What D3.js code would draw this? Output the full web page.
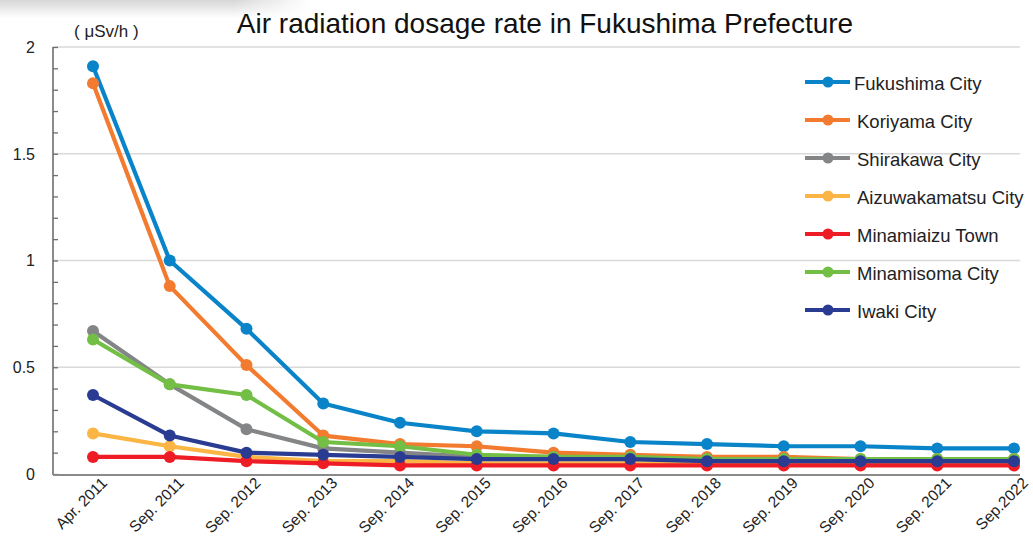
<!DOCTYPE html>
<html lang="en">
<head>
    <meta charset="utf-8">
    <title>Air radiation dosage rate in Fukushima Prefecture</title>
    <script type="text/javascript" src="https://cdn.jsdelivr.net/npm/d3@7/dist/d3.min.js"></script>
    <style>
    body { margin: 0; background: #ffffff; }
    svg { display: block; font-family: "Liberation Sans", Arial, sans-serif; }
    </style>
</head>
<body>
<script>
    var w = 1033;
    var h = 538;

    // data
    var periods = ["Apr. 2011", "Sep. 2011", "Sep. 2012", "Sep. 2013", "Sep. 2014", "Sep. 2015",
                   "Sep. 2016", "Sep. 2017", "Sep. 2018", "Sep. 2019", "Sep. 2020", "Sep. 2021", "Sep.2022"];
    var cities = ["Fukushima City", "Koriyama City", "Shirakawa City", "Aizuwakamatsu City",
                  "Minamiaizu Town", "Minamisoma City", "Iwaki City"];
    var fukushima     = [1.91, 1.00, 0.68, 0.33, 0.24, 0.20, 0.19, 0.15, 0.14, 0.13, 0.13, 0.12, 0.12];
    var koriyama      = [1.83, 0.88, 0.51, 0.18, 0.14, 0.13, 0.10, 0.09, 0.08, 0.08, 0.07, 0.07, 0.07];
    var shirakawa     = [0.67, 0.42, 0.21, 0.12, 0.10, 0.08, 0.08, 0.07, 0.07, 0.07, 0.06, 0.06, 0.06];
    var aizuwakamatsu = [0.19, 0.13, 0.08, 0.06, 0.06, 0.05, 0.05, 0.05, 0.05, 0.05, 0.05, 0.05, 0.05];
    var minamiaizu    = [0.08, 0.08, 0.06, 0.05, 0.04, 0.04, 0.04, 0.04, 0.04, 0.04, 0.04, 0.04, 0.04];
    var minamisoma    = [0.63, 0.42, 0.37, 0.15, 0.13, 0.09, 0.08, 0.08, 0.07, 0.07, 0.07, 0.07, 0.07];
    var iwaki         = [0.37, 0.18, 0.10, 0.09, 0.08, 0.07, 0.07, 0.07, 0.06, 0.06, 0.06, 0.06, 0.06];
    var yTicks = [0, 0.5, 1, 1.5, 2];
    var colors = ["#0a84c8", "#f37b2f", "#848587", "#fbb545", "#ee1c25", "#73be44", "#2a3b92"];

    var seriesValues = [fukushima, koriyama, shirakawa, aizuwakamatsu, minamiaizu, minamisoma, iwaki];
    var series = cities.map(function(c, i) {
        return { name: c, color: colors[i], values: seriesValues[i] };
    });

    var svg = d3.select("body")
                .append("svg")
                .attr("width", w)
                .attr("height", h);

    // faint shadow in the top left corner
    var defs = svg.append("defs");
    var shade = defs.append("linearGradient")
                    .attr("id", "shade")
                    .attr("x1", 0).attr("y1", 0).attr("x2", 0).attr("y2", 1);
    shade.append("stop").attr("offset", "0%").attr("stop-color", "#d6d6d6");
    shade.append("stop").attr("offset", "100%").attr("stop-color", "#ffffff");
    var fade = defs.append("linearGradient")
                   .attr("id", "fade")
                   .attr("x1", 0).attr("y1", 0).attr("x2", 1).attr("y2", 0);
    fade.append("stop").attr("offset", "0%").attr("stop-color", "white");
    fade.append("stop").attr("offset", "75%").attr("stop-color", "white");
    fade.append("stop").attr("offset", "100%").attr("stop-color", "black");
    defs.append("mask")
        .attr("id", "fademask")
        .append("rect")
        .attr("x", 0).attr("y", 0).attr("width", 310).attr("height", 18)
        .attr("fill", "url(#fade)");
    svg.append("rect")
       .attr("x", 0).attr("y", 0)
       .attr("width", 310).attr("height", 18)
       .attr("fill", "url(#shade)")
       .attr("mask", "url(#fademask)");

    var plotLeft = 53, plotRight = 1020, plotTop = 47, plotBottom = 474;

    var x = d3.scalePoint()
              .domain(periods)
              .range([93, 1014]);

    var y = d3.scaleLinear()
              .domain([0, 2])
              .range([plotBottom, plotTop]);

    // gridlines
    svg.append("g")
       .selectAll("line")
       .data(yTicks.filter(function(d) { return d > 0; }))
       .enter()
       .append("line")
       .attr("x1", plotLeft)
       .attr("x2", plotRight)
       .attr("y1", function(d) { return y(d); })
       .attr("y2", function(d) { return y(d); })
       .attr("stroke", "#d9d9d9")
       .attr("stroke-width", 1.5);

    // y axis: minor ticks every 0.1, pointing inward
    var yAxis = svg.append("g")
                   .attr("transform", "translate(" + plotLeft + ",0)")
                   .call(d3.axisRight(y).ticks(20).tickSize(5).tickFormat(""));
    yAxis.select(".domain").remove();
    yAxis.selectAll(".tick line").attr("stroke", "#6e6e6e").attr("stroke-width", 1.3);
    svg.append("line")
       .attr("x1", plotLeft).attr("x2", plotLeft)
       .attr("y1", plotTop).attr("y2", plotBottom + 1)
       .attr("stroke", "#6e6e6e")
       .attr("stroke-width", 1.6);

    svg.append("g")
       .selectAll("text")
       .data(yTicks)
       .enter()
       .append("text")
       .attr("x", 35)
       .attr("y", function(d) { return y(d); })
       .attr("dy", "0.36em")
       .attr("text-anchor", "end")
       .attr("font-size", 16)
       .attr("fill", "#222")
       .text(function(d) { return d; });

    // x axis line
    svg.append("line")
       .attr("x1", plotLeft).attr("x2", plotRight)
       .attr("y1", plotBottom + 1).attr("y2", plotBottom + 1)
       .attr("stroke", "#8a8a8a")
       .attr("stroke-width", 2);

    svg.append("g")
       .selectAll("text")
       .data(periods)
       .enter()
       .append("text")
       .attr("transform", function(d) {
           return "translate(" + (x(d) + 15) + "," + (plotBottom + 10) + ") rotate(-45)";
       })
       .attr("text-anchor", "end")
       .attr("font-size", 15.5)
       .attr("fill", "#222")
       .text(function(d) { return d; });

    // lines and markers
    var line = d3.line()
                 .x(function(d, i) { return x(periods[i]); })
                 .y(function(d) { return y(d); });

    var groups = svg.selectAll("g.city")
                    .data(series)
                    .enter()
                    .append("g")
                    .attr("class", "city");

    groups.append("path")
          .attr("d", function(d) { return line(d.values); })
          .attr("fill", "none")
          .attr("stroke", function(d) { return d.color; })
          .attr("stroke-width", 4.2)
          .attr("stroke-linejoin", "round");

    groups.selectAll("circle")
          .data(function(d) { return d.values.map(function(v, i) { return { v: v, i: i, color: d.color }; }); })
          .enter()
          .append("circle")
          .attr("cx", function(d) { return x(periods[d.i]); })
          .attr("cy", function(d) { return y(d.v); })
          .attr("r", 6)
          .attr("fill", function(d) { return d.color; });

    // legend
    var legend = svg.selectAll("g.legend")
                    .data(series)
                    .enter()
                    .append("g")
                    .attr("class", "legend")
                    .attr("transform", function(d, i) { return "translate(805," + (82 + i * 38) + ")"; });

    legend.append("line")
          .attr("x1", 0).attr("x2", 45)
          .attr("y1", 0).attr("y2", 0)
          .attr("stroke", function(d) { return d.color; })
          .attr("stroke-width", 4);

    legend.append("circle")
          .attr("cx", 23).attr("cy", 0)
          .attr("r", 5.5)
          .attr("fill", function(d) { return d.color; });

    legend.append("text")
          .attr("x", function(d, i) { return i == 0 ? 49 : 52; })
          .attr("y", 1)
          .attr("dy", "0.36em")
          .attr("font-size", 18.5)
          .attr("fill", "#222")
          .text(function(d) { return d.name; });

    // title and unit
    svg.append("text")
       .attr("x", 545)
       .attr("y", 33)
       .attr("text-anchor", "middle")
       .attr("font-size", 28)
       .attr("fill", "#111")
       .text("Air radiation dosage rate in Fukushima Prefecture");

    svg.append("text")
       .attr("x", 74)
       .attr("y", 37)
       .attr("font-size", 17)
       .attr("fill", "#222")
       .text("( μSv/h )");
</script>
</body>
</html>
